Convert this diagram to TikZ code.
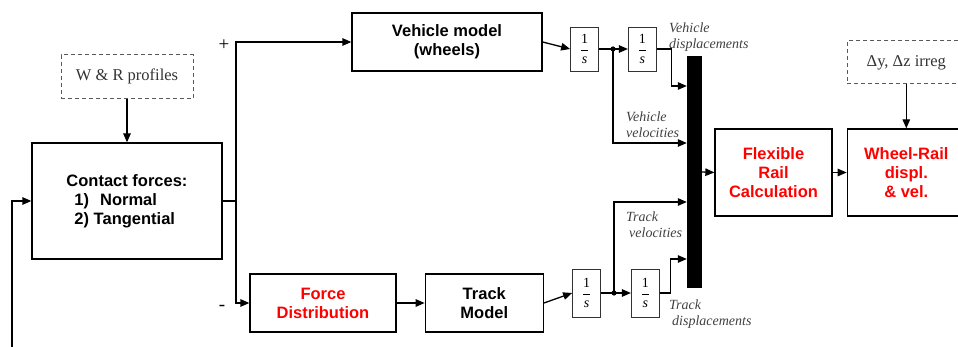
\documentclass[tikz,border=0pt]{standalone}
\usepackage{amsmath}
\usepackage{fontspec}
\setmainfont{Liberation Serif}
\setsansfont{Liberation Sans}
\usetikzlibrary{arrows.meta, positioning}
\newcommand{\integ}{$\dfrac{\text{1}}{\textit{s}}$}
\tikzset{
  block/.style={
    rectangle, draw=black, line width=1.3pt,
    inner sep=0pt, align=center,
    font=\sffamily\bfseries\fontsize{16.5}{19}\selectfont
  },
  dashbox/.style={
    rectangle, draw=black!65, line width=1pt,
    dash pattern=on 4pt off 3pt,
    inner sep=0pt, text=black!80,
    font=\fontsize{16.5}{19}\selectfont
  },
  intbox/.style={
    rectangle, draw=black!80, line width=0.8pt,
    minimum width=28pt, inner sep=0pt,
    font=\fontsize{14}{16}\selectfont
  },
  lbl/.style={
    anchor=north west, inner sep=0pt, align=left, text=black!75,
    font=\itshape\fontsize{14}{16}\selectfont
  },
  sign/.style={inner sep=0pt, font=\fontsize{19}{20}\selectfont},
  line/.style={line width=1.3pt},
  arrow/.style={-{Triangle[length=9pt, width=7.5pt]}, line width=1.3pt}
}

\begin{document}
\begin{tikzpicture}[x=1pt, y=-1pt]
  \useasboundingbox (0,0) rectangle (958,347);
  \clip (0,0) rectangle (958,347);

  % contact model and its profile input
  \node[block, align=left, minimum width=190pt, minimum height=116pt] (contact) at (127,201)
    {Contact forces:\\\hspace*{8pt}1)\hspace{11pt}Normal\\\hspace*{8pt}2) Tangential};
  \node[dashbox, minimum width=132pt, minimum height=44pt, above=43pt of contact] (profiles) {W \& R profiles};

  % vehicle and track branches
  \node[block, minimum width=190pt, minimum height=58pt] (vehicle) at (447,42) {Vehicle model\\(wheels)};
  \node[block, text=red, minimum width=146pt, minimum height=58pt] (force) at (323,303) {Force\\Distribution};
  \node[block, minimum width=118pt, minimum height=58pt, right=28pt of force] (track) {Track\\Model};

  % integrators
  \node[intbox, minimum height=44pt] (int1) at (584.5,49) {\integ};
  \node[intbox, minimum height=44pt, right=29pt of int1] (int2) {\integ};
  \node[intbox, minimum height=48pt] (int3) at (586.5,293) {\integ};
  \node[intbox, minimum height=48pt, right=30pt of int3] (int4) {\integ};

  % mux bar
  \node[rectangle, fill=black, inner sep=0pt, minimum width=15pt, minimum height=232pt] (mux) at (694.5,172) {};

  % rail side
  \node[block, text=red, minimum width=117pt, minimum height=87pt] (flex) at (773.5,172.5) {Flexible\\Rail\\Calculation};
  \node[block, text=red, minimum width=118pt, minimum height=87pt, right=14pt of flex] (wrdisp) {Wheel-Rail\\displ.\\\& vel.};
  \node[dashbox, minimum width=118pt, minimum height=43pt, above=44pt of wrdisp] (irreg) {Δy, Δz irreg};

  % branch points and mux inputs
  \coordinate (split) at (236,201);
  \coordinate (dot1) at (613,49);
  \coordinate (dot2) at (614,293);
  \coordinate (vdisp) at ([yshift=86pt]mux.west);
  \coordinate (vvel) at ([yshift=29pt]mux.west);
  \coordinate (tvel) at ([yshift=-30pt]mux.west);
  \coordinate (tdisp) at ([yshift=-87pt]mux.west);
  \coordinate (fbin) at (12,352);

  % signal labels
  \node[sign] (plus) at (224,45) {+};
  \node[sign] (minus) at (222,308) {-};
  \node[lbl] (lvdisp) at (669,22.5) {Vehicle\\displacements};
  \node[lbl] (lvvel) at (626,112) {Vehicle\\velocities};
  \node[lbl] (ltvel) at (626,212) {Track\\\hspace*{3pt}velocities};
  \node[lbl] (ltdisp) at (669,300) {Track\\\hspace*{3pt}displacements};

  % connectors
  \draw[arrow] (profiles) -- (contact);
  \draw[line] (contact.east) -- (split);
  \draw[arrow] (split) |- (vehicle.west);
  \draw[arrow] (split) |- (force.west);
  \draw[arrow] (vehicle.east) -- (int1.west);
  \draw[arrow] (int1.east) -- (int2.west);
  \draw[arrow] (dot1) |- (vvel);
  \draw[arrow] (int2.east) -| ([xshift=-15pt]vdisp) -- (vdisp);
  \draw[arrow] (force) -- (track);
  \draw[arrow] (track.east) -- (int3.west);
  \draw[arrow] (int3.east) -- (int4.west);
  \draw[arrow] (dot2) |- (tvel);
  \draw[arrow] (int4.east) -| ([xshift=-16pt]tdisp) -- (tdisp);
  \fill (dot1) circle (2.6pt);
  \fill (dot2) circle (2.6pt);
  \draw[arrow] (mux.east) -- (flex.west);
  \draw[arrow] (flex) -- (wrdisp);
  \draw[arrow] (irreg) -- (wrdisp);
  \draw[arrow] (fbin) |- (contact.west);

\end{tikzpicture}
\end{document}
